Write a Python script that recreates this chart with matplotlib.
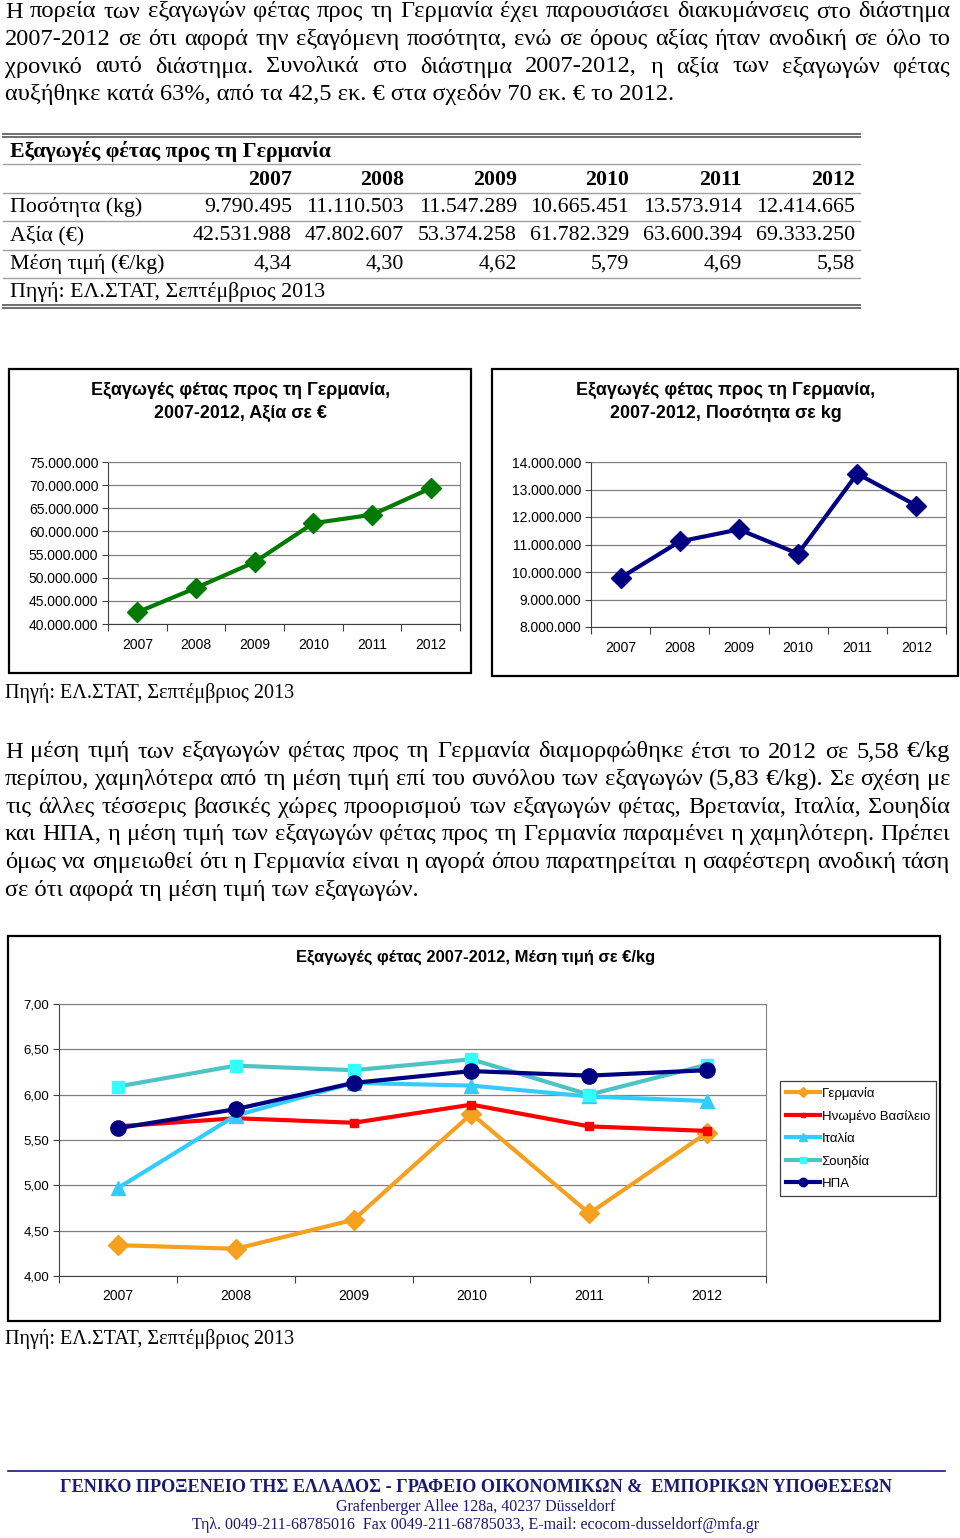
import matplotlib; matplotlib.use("Agg")
import matplotlib.pyplot as plt
import numpy as np
from matplotlib.patches import Rectangle
from matplotlib.lines import Line2D
from matplotlib.ticker import FuncFormatter

SERIF = "Liberation Serif"; SANS = "Liberation Sans"
GREEN = "#007A00"; NAVY = "#000080"; FOOT = "#1A1A73"; GRID = "#808080"

# ---- data (ΕΛ.ΣΤΑΤ) ----
years = [2007, 2008, 2009, 2010, 2011, 2012]
qty_kg = [9790495, 11110503, 11547289, 10665451, 13573914, 12414665]
value_eur = [42531988, 47802607, 53374258, 61782329, 63600394, 69333250]
price_de = [4.34, 4.30, 4.62, 5.79, 4.69, 5.58]
price_uk = [5.65, 5.74, 5.69, 5.89, 5.65, 5.60]
price_it = [4.97, 5.77, 6.13, 6.10, 5.98, 5.93]
price_se = [6.09, 6.32, 6.27, 6.39, 6.00, 6.33]
price_us = [5.63, 5.84, 6.13, 6.26, 6.21, 6.27]
countries = ["Γερμανία", "Ηνωμένο Βασίλειο", "Ιταλία", "Σουηδία", "ΗΠΑ"]

para1 = ["Η πορεία των εξαγωγών φέτας προς τη Γερμανία έχει παρουσιάσει διακυμάνσεις στο διάστημα",
         "2007-2012 σε ότι αφορά την εξαγόμενη ποσότητα, ενώ σε όρους αξίας ήταν ανοδική σε όλο το",
         "χρονικό αυτό διάστημα. Συνολικά στο διάστημα 2007-2012, η αξία των εξαγωγών φέτας",
         "αυξήθηκε κατά 63%, από τα 42,5 εκ. € στα σχεδόν 70 εκ. € το 2012."]
para2 = ["Η μέση τιμή των εξαγωγών φέτας προς τη Γερμανία διαμορφώθηκε έτσι το 2012 σε 5,58 €/kg",
         "περίπου, χαμηλότερα από τη μέση τιμή επί του συνόλου των εξαγωγών (5,83 €/kg). Σε σχέση με",
         "τις άλλες τέσσερις βασικές χώρες προορισμού των εξαγωγών φέτας, Βρετανία, Ιταλία, Σουηδία",
         "και ΗΠΑ, η μέση τιμή των εξαγωγών φέτας προς τη Γερμανία παραμένει η χαμηλότερη. Πρέπει",
         "όμως να σημειωθεί ότι η Γερμανία είναι η αγορά όπου παρατηρείται η σαφέστερη ανοδική τάση",
         "σε ότι αφορά τη μέση τιμή των εξαγωγών."]
source = "Πηγή: ΕΛ.ΣΤΑΤ, Σεπτέμβριος 2013"
foot = ["ΓΕΝΙΚΟ ΠΡΟΞΕΝΕΙΟ ΤΗΣ ΕΛΛΑΔΟΣ - ΓΡΑΦΕΙΟ ΟΙΚΟΝΟΜΙΚΩΝ &  ΕΜΠΟΡΙΚΩΝ ΥΠΟΘΕΣΕΩΝ",
        "Grafenberger Allee 128a, 40237 Düsseldorf",
        "Τηλ. 0049-211-68785016  Fax 0049-211-68785033, E-mail: ecocom-dusseldorf@mfa.gr"]

W, H = 960, 1538
fig = plt.figure(figsize=(W/100, H/100), dpi=100)
R = fig.canvas.get_renderer()
fx = lambda x: x / W
fy = lambda y: 1 - y / H

def width(s, **kw):
    t = fig.text(0, 0, s, **kw); w = t.get_window_extent(R).width; t.remove(); return w

def fit(s, target, **kw):
    return 10 * target / width(s, fontsize=10, **kw)

def txt(x, y, s, **kw):
    kw.setdefault("va", "center"); kw.setdefault("family", SERIF)
    return fig.text(fx(x), fy(y), s, **kw)

def justify(lines, x0, x1, y0, dy, size):
    for i, line in enumerate(lines):
        y = y0 + i * dy
        if i == len(lines) - 1:
            txt(x0, y, line, fontsize=size); continue
        words = line.split()
        ws = [width(w, fontsize=size, family=SERIF) for w in words]
        gap = (x1 - x0 - sum(ws)) / (len(words) - 1)
        x = x0
        for w, ww in zip(words, ws):
            txt(x, y, w, fontsize=size); x += ww + gap

def hline(y, x0, x1, color="#7F7F7F", lw=1.2):
    fig.add_artist(Line2D([fx(x0), fx(x1)], [fy(y), fy(y)], color=color, lw=lw, transform=fig.transFigure))

def box(x0, y0, x1, y1):
    fig.add_artist(Rectangle((fx(x0), fy(y1)), fx(x1) - fx(x0), (y1 - y0) / H, fill=False,
                             ec="black", lw=1.6, transform=fig.transFigure))

# ---- text paragraphs ----
PS = fit(para1[-1], 668, family=SERIF)
justify(para1, 5, 950, 12, 27.5, PS)
justify(para2, 5, 950, 752, 27.6, PS)
SS = fit(source, 289, family=SERIF)

# ---- table ----
gr = lambda v: f"{v:,}".replace(",", ".")
dec = lambda v: f"{v:.2f}".replace(".", ",")
TS = fit("42.531.988", 98, family=SERIF)
col_r = [292, 404, 517, 629, 742, 855]
for y in (134, 137, 305, 308):
    hline(y, 3, 860, "#6F6F6F", 1.4)
for y in (164, 193, 221, 250, 278):
    hline(y, 3, 860, "#9F9F9F", 1.0)
txt(10, 151, "Εξαγωγές φέτας προς τη Γερμανία", fontsize=TS, weight="bold")
rows = [("Ποσότητα (kg)", [gr(v) for v in qty_kg]),
        ("Αξία (€)", [gr(v) for v in value_eur]),
        ("Μέση τιμή (€/kg)", [dec(v) for v in price_de])]
for x, yr in zip(col_r, years):
    txt(x, 180, str(yr), fontsize=TS, weight="bold", ha="right")
for i, (lab, vals) in enumerate(rows):
    y = 207 + i * 28.5
    txt(10, y, lab, fontsize=TS)
    for x, v in zip(col_r, vals):
        txt(x, y, v, fontsize=TS, ha="right")
txt(10, 292, source, fontsize=TS)

# ---- charts ----
def axes_px(l, t, r, b):
    return fig.add_axes([fx(l), fy(b), (r - l) / W, (b - t) / H])

def style(ax, lo, hi, step, fmt, size=10, xpad=10):
    ax.set_xlim(years[0] - 0.5, years[-1] + 0.5); ax.set_ylim(lo, hi)
    ax.set_yticks(np.arange(lo, hi + step / 2, step))
    ax.yaxis.set_major_formatter(FuncFormatter(fmt))
    ax.set_xticks(np.arange(years[0] - 0.5, years[-1] + 1, 1)); ax.set_xticklabels([])
    ax.set_xticks(years, minor=True); ax.set_xticklabels([str(y) for y in years], minor=True)
    ax.tick_params(axis="x", which="minor", length=0, pad=xpad, labelsize=10)
    ax.tick_params(axis="x", which="major", length=5, color="#404040")
    ax.tick_params(axis="y", length=4, color="#404040", pad=3, labelsize=size)
    for lab in ax.get_xticklabels(minor=True) + ax.get_yticklabels():
        lab.set_family(SANS)
    ax.grid(axis="y", color=GRID, lw=0.9); ax.set_axisbelow(True)
    for s in ("top", "right"): ax.spines[s].set_color(GRID)
    for s in ("left", "bottom"): ax.spines[s].set_color("#404040")

thous = lambda v, p: gr(int(round(v)))
t1 = "Εξαγωγές φέτας προς τη Γερμανία,"
CS = fit(t1, 298, family=SANS, weight="bold")

box(9, 369, 471, 673)
txt(241, 390, t1, family=SANS, fontsize=CS, weight="bold", ha="center")
txt(241, 413, "2007-2012, Αξία σε €", family=SANS, fontsize=CS, weight="bold", ha="center")
ax1 = axes_px(108, 462, 460, 624)
ax1.plot(years, value_eur, color=GREEN, lw=3, marker="D", ms=10)
style(ax1, 40e6, 75e6, 5e6, thous)

box(492, 369, 958, 676)
txt(726, 390, t1, family=SANS, fontsize=CS, weight="bold", ha="center")
txt(726, 413, "2007-2012, Ποσότητα σε kg", family=SANS, fontsize=CS, weight="bold", ha="center")
ax2 = axes_px(591, 462, 946, 627)
ax2.plot(years, qty_kg, color=NAVY, lw=3, marker="D", ms=10)
style(ax2, 8e6, 14e6, 1e6, thous)

txt(5, 693, source, fontsize=SS)

# ---- average price, 5 markets ----
t3 = "Εξαγωγές φέτας 2007-2012, Μέση τιμή σε €/kg"
box(8, 936, 940, 1321)
txt(476, 957, t3, family=SANS, fontsize=fit(t3, 358, family=SANS, weight="bold"), weight="bold", ha="center")
ax3 = axes_px(59, 1004, 766, 1276)
series = [(price_de, "#F5A01E", "#F5A01E", "D", 10),
          (price_uk, "#FF0000", "#FF0000", "s", 6),
          (price_it, "#33CCFF", "#33CCFF", "^", 10),
          (price_se, "#4CC4C4", "#33FFFF", "s", 8),
          (price_us, NAVY, NAVY, "o", 11)]
for (vals, lc, mc, m, ms), name in zip(series, countries):
    ax3.plot(years, vals, color=lc, lw=3, marker=m, ms=ms, mfc=mc, mec=mc, label=name)
style(ax3, 4.0, 7.0, 0.5, lambda v, p: dec(v), size=9.5, xpad=9)
leg = ax3.legend(loc="upper left", bbox_to_anchor=(fx(780), fy(1081)), bbox_transform=fig.transFigure,
                 borderaxespad=0, frameon=True, fancybox=False, edgecolor="#404040", framealpha=1,
                 markerscale=0.55, handlelength=2.6, handletextpad=0.1, labelspacing=0.75,
                 borderpad=0.45, prop={"family": SANS, "size": 9.5})
leg.get_frame().set_linewidth(0.9)

txt(5, 1339, source, fontsize=SS)

# ---- footer ----
hline(1471, 8, 945, FOOT, 1.2)
txt(476, 1487, foot[0], fontsize=fit(foot[0], 827, family=SERIF, weight="bold"), weight="bold", ha="center", color=FOOT)
txt(476, 1507, foot[1], fontsize=fit(foot[1], 280, family=SERIF), ha="center", color=FOOT)
txt(476, 1525, foot[2], fontsize=fit(foot[2], 567, family=SERIF), ha="center", color=FOOT)

fig.savefig("out.png", dpi=100)
